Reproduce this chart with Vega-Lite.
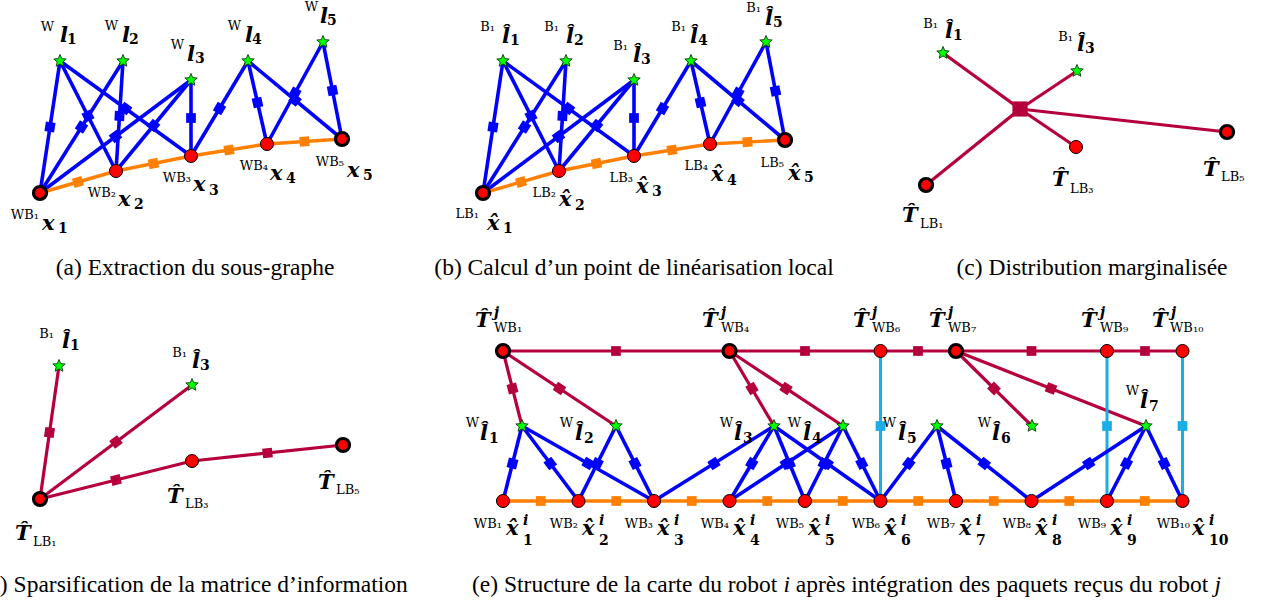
{
  "$schema": "https://vega.github.io/schema/vega-lite/v6.json",
  "width": 1263,
  "height": 606,
  "autosize": {"type": "none"},
  "padding": 0,
  "background": "white",
  "config": {"view": {"stroke": null}},
  "datasets": {
    "edges": [
      {"c":"b","x":60,"y":61,"x2":40,"y2":193,"fx":50,"fy":127},
      {"c":"b","x":60,"y":61,"x2":116,"y2":171,"fx":88,"fy":116},
      {"c":"b","x":60,"y":61,"x2":191,"y2":156,"fx":125.5,"fy":108.5},
      {"c":"b","x":123,"y":61,"x2":40,"y2":193,"fx":81.5,"fy":127},
      {"c":"b","x":123,"y":61,"x2":116,"y2":171,"fx":119.5,"fy":116},
      {"c":"b","x":191,"y":80,"x2":40,"y2":193,"fx":115.5,"fy":136.5},
      {"c":"b","x":191,"y":80,"x2":116,"y2":171,"fx":153.5,"fy":125.5},
      {"c":"b","x":191,"y":80,"x2":191,"y2":156,"fx":191,"fy":118},
      {"c":"b","x":248,"y":61,"x2":191,"y2":156,"fx":219.5,"fy":108.5},
      {"c":"b","x":248,"y":61,"x2":267,"y2":144,"fx":257.5,"fy":102.5},
      {"c":"b","x":248,"y":61,"x2":342,"y2":139,"fx":295,"fy":100},
      {"c":"b","x":323,"y":42,"x2":267,"y2":144,"fx":295,"fy":93},
      {"c":"b","x":323,"y":42,"x2":342,"y2":139,"fx":332.5,"fy":90.5},
      {"c":"o","x":40,"y":193,"x2":116,"y2":171,"fx":78,"fy":182},
      {"c":"o","x":116,"y":171,"x2":191,"y2":156,"fx":153.5,"fy":163.5},
      {"c":"o","x":191,"y":156,"x2":267,"y2":144,"fx":229,"fy":150},
      {"c":"o","x":267,"y":144,"x2":342,"y2":139,"fx":304.5,"fy":141.5},
      {"c":"b","x":503,"y":61,"x2":483,"y2":193,"fx":493,"fy":127},
      {"c":"b","x":503,"y":61,"x2":559,"y2":171,"fx":531,"fy":116},
      {"c":"b","x":503,"y":61,"x2":634,"y2":156,"fx":568.5,"fy":108.5},
      {"c":"b","x":566,"y":61,"x2":483,"y2":193,"fx":524.5,"fy":127},
      {"c":"b","x":566,"y":61,"x2":559,"y2":171,"fx":562.5,"fy":116},
      {"c":"b","x":634,"y":80,"x2":483,"y2":193,"fx":558.5,"fy":136.5},
      {"c":"b","x":634,"y":80,"x2":559,"y2":171,"fx":596.5,"fy":125.5},
      {"c":"b","x":634,"y":80,"x2":634,"y2":156,"fx":634,"fy":118},
      {"c":"b","x":691,"y":61,"x2":634,"y2":156,"fx":662.5,"fy":108.5},
      {"c":"b","x":691,"y":61,"x2":710,"y2":144,"fx":700.5,"fy":102.5},
      {"c":"b","x":691,"y":61,"x2":785,"y2":140,"fx":738,"fy":100.5},
      {"c":"b","x":766,"y":42,"x2":710,"y2":144,"fx":738,"fy":93},
      {"c":"b","x":766,"y":42,"x2":785,"y2":140,"fx":775.5,"fy":91},
      {"c":"o","x":483,"y":193,"x2":559,"y2":171,"fx":521,"fy":182},
      {"c":"o","x":559,"y":171,"x2":634,"y2":156,"fx":596.5,"fy":163.5},
      {"c":"o","x":634,"y":156,"x2":710,"y2":144,"fx":672,"fy":150},
      {"c":"o","x":710,"y":144,"x2":785,"y2":140,"fx":747.5,"fy":142},
      {"c":"r","x":1020,"y":109,"x2":943,"y2":53},
      {"c":"r","x":1020,"y":109,"x2":1077,"y2":71},
      {"c":"r","x":1020,"y":109,"x2":926,"y2":185},
      {"c":"r","x":1020,"y":109,"x2":1076,"y2":147},
      {"c":"r","x":1020,"y":109,"x2":1227,"y2":132},
      {"c":"r","x":40,"y":499,"x2":59,"y2":366,"fx":49.5,"fy":432.5},
      {"c":"r","x":40,"y":499,"x2":192,"y2":385,"fx":116,"fy":442},
      {"c":"r","x":40,"y":499,"x2":192,"y2":461,"fx":116,"fy":480},
      {"c":"r","x":192,"y":461,"x2":343,"y2":445,"fx":267.5,"fy":453},
      {"c":"r","x":503,"y":351,"x2":729.5,"y2":351,"fx":616,"fy":351},
      {"c":"r","x":729.5,"y":351,"x2":880.5,"y2":351,"fx":805,"fy":351},
      {"c":"r","x":880.5,"y":351,"x2":956,"y2":351,"fx":918,"fy":351},
      {"c":"r","x":956,"y":351,"x2":1107,"y2":351,"fx":1031.5,"fy":351},
      {"c":"r","x":1107,"y":351,"x2":1182.5,"y2":351,"fx":1145,"fy":351},
      {"c":"r","x":503,"y":351,"x2":522,"y2":426,"fx":512.5,"fy":388.5},
      {"c":"r","x":503,"y":351,"x2":616,"y2":426,"fx":559.5,"fy":388.5},
      {"c":"r","x":729.5,"y":351,"x2":774,"y2":426,"fx":752,"fy":388.5},
      {"c":"r","x":729.5,"y":351,"x2":843,"y2":426,"fx":786,"fy":388.5},
      {"c":"r","x":956,"y":351,"x2":1032,"y2":426,"fx":994,"fy":388.5},
      {"c":"r","x":956,"y":351,"x2":1146,"y2":426,"fx":1051,"fy":388.5},
      {"c":"c","x":880.5,"y":351,"x2":880.5,"y2":501,"fx":880.5,"fy":426},
      {"c":"c","x":1107,"y":351,"x2":1107,"y2":501,"fx":1107,"fy":426},
      {"c":"c","x":1182.5,"y":351,"x2":1182.5,"y2":501,"fx":1182.5,"fy":426},
      {"c":"o","x":503,"y":501,"x2":578.5,"y2":501,"fx":540.75,"fy":501},
      {"c":"o","x":578.5,"y":501,"x2":654,"y2":501,"fx":616.25,"fy":501},
      {"c":"o","x":654,"y":501,"x2":729.5,"y2":501,"fx":691.75,"fy":501},
      {"c":"o","x":729.5,"y":501,"x2":805,"y2":501,"fx":767.25,"fy":501},
      {"c":"o","x":805,"y":501,"x2":880.5,"y2":501,"fx":842.75,"fy":501},
      {"c":"o","x":880.5,"y":501,"x2":956,"y2":501,"fx":918.25,"fy":501},
      {"c":"o","x":956,"y":501,"x2":1031.5,"y2":501,"fx":993.75,"fy":501},
      {"c":"o","x":1031.5,"y":501,"x2":1107,"y2":501,"fx":1069.25,"fy":501},
      {"c":"o","x":1107,"y":501,"x2":1182.5,"y2":501,"fx":1144.75,"fy":501},
      {"c":"b","x":522,"y":426,"x2":503,"y2":501,"fx":512.5,"fy":463.5},
      {"c":"b","x":522,"y":426,"x2":578.5,"y2":501,"fx":550.25,"fy":463.5},
      {"c":"b","x":522,"y":426,"x2":654,"y2":501,"fx":588,"fy":463.5},
      {"c":"b","x":616,"y":426,"x2":578.5,"y2":501,"fx":597.25,"fy":463.5},
      {"c":"b","x":616,"y":426,"x2":654,"y2":501,"fx":635,"fy":463.5},
      {"c":"b","x":774,"y":426,"x2":654,"y2":501,"fx":714,"fy":463.5},
      {"c":"b","x":774,"y":426,"x2":729.5,"y2":501,"fx":751.75,"fy":463.5},
      {"c":"b","x":774,"y":426,"x2":805,"y2":501,"fx":789.5,"fy":463.5},
      {"c":"b","x":774,"y":426,"x2":880.5,"y2":501,"fx":827.25,"fy":463.5},
      {"c":"b","x":843,"y":426,"x2":729.5,"y2":501,"fx":786.25,"fy":463.5},
      {"c":"b","x":843,"y":426,"x2":805,"y2":501,"fx":824,"fy":463.5},
      {"c":"b","x":843,"y":426,"x2":880.5,"y2":501,"fx":861.75,"fy":463.5},
      {"c":"b","x":937,"y":426,"x2":880.5,"y2":501,"fx":908.75,"fy":463.5},
      {"c":"b","x":937,"y":426,"x2":956,"y2":501,"fx":946.5,"fy":463.5},
      {"c":"b","x":937,"y":426,"x2":1031.5,"y2":501,"fx":984.25,"fy":463.5},
      {"c":"b","x":1146,"y":426,"x2":1031.5,"y2":501,"fx":1088.75,"fy":463.5},
      {"c":"b","x":1146,"y":426,"x2":1107,"y2":501,"fx":1126.5,"fy":463.5},
      {"c":"b","x":1146,"y":426,"x2":1182.5,"y2":501,"fx":1164.25,"fy":463.5}
    ],
    "nodes": [
      {"k":"x","b":1,"x":40,"y":193},{"k":"x","b":0,"x":116,"y":171},{"k":"x","b":0,"x":191,"y":156},{"k":"x","b":0,"x":267,"y":144},{"k":"x","b":1,"x":342,"y":139},
      {"k":"x","b":1,"x":483,"y":193},{"k":"x","b":0,"x":559,"y":171},{"k":"x","b":0,"x":634,"y":156},{"k":"x","b":0,"x":710,"y":144},{"k":"x","b":1,"x":785,"y":140},
      {"k":"x","b":1,"x":926,"y":185},{"k":"x","b":0,"x":1076,"y":147},{"k":"x","b":1,"x":1227,"y":132},
      {"k":"x","b":1,"x":40,"y":499},{"k":"x","b":0,"x":192,"y":461},{"k":"x","b":1,"x":343,"y":445},
      {"k":"x","b":1,"x":503,"y":351},{"k":"x","b":1,"x":729.5,"y":351},{"k":"x","b":0,"x":880.5,"y":351},{"k":"x","b":1,"x":956,"y":351},{"k":"x","b":0,"x":1107,"y":351},{"k":"x","b":0,"x":1182.5,"y":351},
      {"k":"x","b":0,"x":503,"y":501},{"k":"x","b":0,"x":578.5,"y":501},{"k":"x","b":0,"x":654,"y":501},{"k":"x","b":0,"x":729.5,"y":501},{"k":"x","b":0,"x":805,"y":501},{"k":"x","b":0,"x":880.5,"y":501},{"k":"x","b":0,"x":956,"y":501},{"k":"x","b":0,"x":1031.5,"y":501},{"k":"x","b":0,"x":1107,"y":501},{"k":"x","b":0,"x":1182.5,"y":501},
      {"k":"l","b":0,"x":60,"y":61},{"k":"l","b":0,"x":123,"y":61},{"k":"l","b":0,"x":191,"y":80},{"k":"l","b":0,"x":248,"y":61},{"k":"l","b":0,"x":323,"y":42},
      {"k":"l","b":0,"x":503,"y":61},{"k":"l","b":0,"x":566,"y":61},{"k":"l","b":0,"x":634,"y":80},{"k":"l","b":0,"x":691,"y":61},{"k":"l","b":0,"x":766,"y":42},
      {"k":"l","b":0,"x":943,"y":53},{"k":"l","b":0,"x":1077,"y":71},
      {"k":"l","b":0,"x":59,"y":366},{"k":"l","b":0,"x":192,"y":385},
      {"k":"l","b":0,"x":522,"y":426},{"k":"l","b":0,"x":616,"y":426},{"k":"l","b":0,"x":774,"y":426},{"k":"l","b":0,"x":843,"y":426},{"k":"l","b":0,"x":937,"y":426},{"k":"l","b":0,"x":1032,"y":426},{"k":"l","b":0,"x":1146,"y":426}
    ],
    "labels": [
      {"k":"p","t":"W","x":54,"y":31},{"k":"m","t":"l","x":60,"y":42},{"k":"s","t":"1","x":67,"y":44},
      {"k":"p","t":"W","x":118,"y":30},{"k":"m","t":"l","x":122,"y":42},{"k":"s","t":"2","x":129,"y":44},
      {"k":"p","t":"W","x":184,"y":49},{"k":"m","t":"l","x":187,"y":61},{"k":"s","t":"3","x":195,"y":63},
      {"k":"p","t":"W","x":241,"y":30},{"k":"m","t":"l","x":245,"y":42},{"k":"s","t":"4","x":252,"y":44},
      {"k":"p","t":"W","x":318,"y":11},{"k":"m","t":"l","x":320,"y":23},{"k":"s","t":"5","x":327,"y":25},
      {"k":"p","t":"WB₁","x":39,"y":219},{"k":"m","t":"x","x":42,"y":230},{"k":"s","t":"1","x":58,"y":233},
      {"k":"p","t":"WB₂","x":116,"y":197},{"k":"m","t":"x","x":118,"y":206},{"k":"s","t":"2","x":134,"y":209},
      {"k":"p","t":"WB₃","x":191,"y":182},{"k":"m","t":"x","x":193,"y":191},{"k":"s","t":"3","x":209,"y":195},
      {"k":"p","t":"WB₄","x":268,"y":170},{"k":"m","t":"x","x":270,"y":180},{"k":"s","t":"4","x":286,"y":183},
      {"k":"p","t":"WB₅","x":344,"y":166},{"k":"m","t":"x","x":347,"y":177},{"k":"s","t":"5","x":363,"y":180},
      {"k":"p","t":"B₁","x":495,"y":31},{"k":"m","t":"l̂","x":502,"y":43},{"k":"s","t":"1","x":510,"y":45},
      {"k":"p","t":"B₁","x":559,"y":31},{"k":"m","t":"l̂","x":566,"y":43},{"k":"s","t":"2","x":574,"y":45},
      {"k":"p","t":"B₁","x":628,"y":50},{"k":"m","t":"l̂","x":633,"y":62},{"k":"s","t":"3","x":641,"y":64},
      {"k":"p","t":"B₁","x":686,"y":31},{"k":"m","t":"l̂","x":690,"y":43},{"k":"s","t":"4","x":698,"y":45},
      {"k":"p","t":"B₁","x":761,"y":12},{"k":"m","t":"l̂","x":765,"y":25},{"k":"s","t":"5","x":773,"y":27},
      {"k":"p","t":"LB₁","x":479,"y":218},{"k":"m","t":"x̂","x":487,"y":230},{"k":"s","t":"1","x":503,"y":233},
      {"k":"p","t":"LB₂","x":556,"y":197},{"k":"m","t":"x̂","x":559,"y":206},{"k":"s","t":"2","x":575,"y":210},
      {"k":"p","t":"LB₃","x":633,"y":182},{"k":"m","t":"x̂","x":636,"y":193},{"k":"s","t":"3","x":652,"y":196},
      {"k":"p","t":"LB₄","x":708,"y":170},{"k":"m","t":"x̂","x":711,"y":181},{"k":"s","t":"4","x":727,"y":185},
      {"k":"p","t":"LB₅","x":784,"y":167},{"k":"m","t":"x̂","x":788,"y":180},{"k":"s","t":"5","x":804,"y":182},
      {"k":"p","t":"B₁","x":938,"y":28},{"k":"m","t":"l̂","x":945,"y":38},{"k":"s","t":"1","x":953,"y":40},
      {"k":"p","t":"B₁","x":1073,"y":41},{"k":"m","t":"l̂","x":1077,"y":51},{"k":"s","t":"3","x":1085,"y":53},
      {"k":"m","t":"T̂","x":902,"y":222},{"k":"q","t":"LB₁","x":920,"y":228},
      {"k":"m","t":"T̂","x":1052,"y":186},{"k":"q","t":"LB₃","x":1070,"y":193},
      {"k":"m","t":"T̂","x":1203,"y":176},{"k":"q","t":"LB₅","x":1221,"y":181},
      {"k":"p","t":"B₁","x":54,"y":338},{"k":"m","t":"l̂","x":62,"y":348},{"k":"s","t":"1","x":70,"y":350},
      {"k":"p","t":"B₁","x":187,"y":357},{"k":"m","t":"l̂","x":192,"y":368},{"k":"s","t":"3","x":200,"y":370},
      {"k":"m","t":"T̂","x":15,"y":540},{"k":"q","t":"LB₁","x":33,"y":546},
      {"k":"m","t":"T̂","x":167,"y":503},{"k":"q","t":"LB₃","x":185,"y":508},
      {"k":"m","t":"T̂","x":318,"y":489},{"k":"q","t":"LB₅","x":336,"y":494},
      {"k":"m","t":"T̂","x":475,"y":327},{"k":"u","t":"j","x":494,"y":317},{"k":"q","t":"WB₁","x":494,"y":332},
      {"k":"m","t":"T̂","x":702,"y":327},{"k":"u","t":"j","x":721,"y":317},{"k":"q","t":"WB₄","x":721,"y":332},
      {"k":"m","t":"T̂","x":853,"y":327},{"k":"u","t":"j","x":872,"y":317},{"k":"q","t":"WB₆","x":872,"y":332},
      {"k":"m","t":"T̂","x":929,"y":327},{"k":"u","t":"j","x":948,"y":317},{"k":"q","t":"WB₇","x":948,"y":332},
      {"k":"m","t":"T̂","x":1081,"y":327},{"k":"u","t":"j","x":1100,"y":317},{"k":"q","t":"WB₉","x":1100,"y":332},
      {"k":"m","t":"T̂","x":1152,"y":327},{"k":"u","t":"j","x":1171,"y":317},{"k":"q","t":"WB₁₀","x":1170,"y":332},
      {"k":"p","t":"WB₁","x":502,"y":528},{"k":"m","t":"x̂","x":506,"y":535},{"k":"u","t":"i","x":523,"y":525},{"k":"s","t":"1","x":523,"y":545},
      {"k":"p","t":"WB₂","x":578,"y":528},{"k":"m","t":"x̂","x":582,"y":535},{"k":"u","t":"i","x":599,"y":525},{"k":"s","t":"2","x":599,"y":545},
      {"k":"p","t":"WB₃","x":653,"y":528},{"k":"m","t":"x̂","x":657,"y":535},{"k":"u","t":"i","x":674,"y":525},{"k":"s","t":"3","x":674,"y":545},
      {"k":"p","t":"WB₄","x":729,"y":528},{"k":"m","t":"x̂","x":733,"y":535},{"k":"u","t":"i","x":750,"y":525},{"k":"s","t":"4","x":750,"y":545},
      {"k":"p","t":"WB₅","x":804,"y":528},{"k":"m","t":"x̂","x":808,"y":535},{"k":"u","t":"i","x":825,"y":525},{"k":"s","t":"5","x":825,"y":545},
      {"k":"p","t":"WB₆","x":880,"y":528},{"k":"m","t":"x̂","x":884,"y":535},{"k":"u","t":"i","x":901,"y":525},{"k":"s","t":"6","x":901,"y":545},
      {"k":"p","t":"WB₇","x":955,"y":528},{"k":"m","t":"x̂","x":959,"y":535},{"k":"u","t":"i","x":976,"y":525},{"k":"s","t":"7","x":976,"y":545},
      {"k":"p","t":"WB₈","x":1031,"y":528},{"k":"m","t":"x̂","x":1035,"y":535},{"k":"u","t":"i","x":1052,"y":525},{"k":"s","t":"8","x":1052,"y":545},
      {"k":"p","t":"WB₉","x":1106,"y":528},{"k":"m","t":"x̂","x":1110,"y":535},{"k":"u","t":"i","x":1127,"y":525},{"k":"s","t":"9","x":1127,"y":545},
      {"k":"p","t":"WB₁₀","x":1190,"y":528},{"k":"m","t":"x̂","x":1192,"y":535},{"k":"u","t":"i","x":1209,"y":525},{"k":"s","t":"10","x":1209,"y":545},
      {"k":"p","t":"W","x":479,"y":427},{"k":"m","t":"l̂","x":480,"y":440},{"k":"s","t":"1","x":489,"y":443},
      {"k":"p","t":"W","x":573,"y":427},{"k":"m","t":"l̂","x":575,"y":440},{"k":"s","t":"2","x":584,"y":443},
      {"k":"p","t":"W","x":733,"y":427},{"k":"m","t":"l̂","x":734,"y":440},{"k":"s","t":"3","x":743,"y":443},
      {"k":"p","t":"W","x":801,"y":427},{"k":"m","t":"l̂","x":803,"y":440},{"k":"s","t":"4","x":812,"y":443},
      {"k":"p","t":"W","x":896,"y":427},{"k":"m","t":"l̂","x":898,"y":440},{"k":"s","t":"5","x":907,"y":443},
      {"k":"p","t":"W","x":991,"y":427},{"k":"m","t":"l̂","x":992,"y":440},{"k":"s","t":"6","x":1001,"y":443},
      {"k":"p","t":"W","x":1139,"y":395},{"k":"m","t":"l̂","x":1140,"y":408},{"k":"s","t":"7","x":1149,"y":411}
    ],
    "captions": [
      {"st":"c","t":"(a) Extraction du sous-graphe","x":195,"y":275},
      {"st":"c","t":"(b) Calcul d’un point de linéarisation local","x":634,"y":275},
      {"st":"c","t":"(c) Distribution marginalisée","x":1092,"y":275},
      {"st":"c","t":"(d) Sparsification de la matrice d’information","x":194,"y":592},
      {"st":"l","t":"(e) Structure de la carte du robot","x":472,"y":592},
      {"st":"i","t":"i","x":783.5,"y":592},
      {"st":"l","t":"après intégration des paquets reçus du robot","x":795.8,"y":592},
      {"st":"i","t":"j","x":1214.5,"y":592}
    ]
  },
  "layer": [
    {
      "data": {"name": "edges"},
      "mark": {"type": "rule", "strokeCap": "butt"},
      "encoding": {
        "x": {"field": "x", "type": "quantitative", "scale": {"domain": [0, 1263], "nice": false, "zero": false}, "axis": null},
        "y": {"field": "y", "type": "quantitative", "scale": {"domain": [0, 606], "reverse": true, "nice": false, "zero": false}, "axis": null},
        "x2": {"field": "x2"},
        "y2": {"field": "y2"},
        "color": {"field": "c", "type": "nominal", "scale": {"domain": ["b", "o", "r", "c"], "range": ["#0000ff", "#ff8000", "#b5003c", "#1aaee8"]}, "legend": null},
        "strokeWidth": {"field": "c", "type": "nominal", "scale": {"domain": ["b", "o", "r", "c"], "range": [3.6, 3, 3, 3]}, "legend": null}
      }
    },
    {
      "data": {"name": "edges"},
      "transform": [
        {"filter": "isValid(datum.fx)"},
        {"calculate": "atan2(datum.y2 - datum.y, datum.x2 - datum.x) * 180 / PI", "as": "ang"}
      ],
      "mark": {"type": "point", "shape": "square", "filled": true, "opacity": 1, "size": 95},
      "encoding": {
        "x": {"field": "fx", "type": "quantitative", "scale": {"domain": [0, 1263], "nice": false, "zero": false}, "axis": null},
        "y": {"field": "fy", "type": "quantitative", "scale": {"domain": [0, 606], "reverse": true, "nice": false, "zero": false}, "axis": null},
        "color": {"field": "c", "type": "nominal", "scale": {"domain": ["b", "o", "r", "c"], "range": ["#0000ff", "#ff8000", "#b5003c", "#1aaee8"]}, "legend": null},
        "angle": {"field": "ang", "type": "quantitative", "scale": null}
      }
    },
    {
      "data": {"values": [{"x": 1020, "y": 109}]},
      "mark": {"type": "point", "shape": "square", "filled": true, "opacity": 1, "size": 230, "color": "#b5003c"},
      "encoding": {
        "x": {"field": "x", "type": "quantitative", "scale": {"domain": [0, 1263], "nice": false, "zero": false}, "axis": null},
        "y": {"field": "y", "type": "quantitative", "scale": {"domain": [0, 606], "reverse": true, "nice": false, "zero": false}, "axis": null}
      }
    },
    {
      "data": {"name": "nodes"},
      "transform": [{"filter": "datum.k == 'x'"}],
      "mark": {"type": "point", "shape": "circle", "filled": true, "fill": "#ff0000", "stroke": "#000000", "opacity": 1, "fillOpacity": 1, "strokeOpacity": 1, "size": 170},
      "encoding": {
        "x": {"field": "x", "type": "quantitative", "scale": {"domain": [0, 1263], "nice": false, "zero": false}, "axis": null},
        "y": {"field": "y", "type": "quantitative", "scale": {"domain": [0, 606], "reverse": true, "nice": false, "zero": false}, "axis": null},
        "strokeWidth": {"condition": {"test": "datum.b == 1", "value": 3.2}, "value": 1}
      }
    },
    {
      "data": {"name": "nodes"},
      "transform": [{"filter": "datum.k == 'l'"}],
      "mark": {"type": "point", "shape": "M0,-1L0.265,-0.364L0.951,-0.309L0.428,0.139L0.588,0.809L0,0.45L-0.588,0.809L-0.428,0.139L-0.951,-0.309L-0.265,-0.364Z", "filled": true, "fill": "#00ff00", "stroke": "#0a3a0a", "strokeWidth": 0.9, "opacity": 1, "fillOpacity": 1, "strokeOpacity": 1, "size": 170},
      "encoding": {
        "x": {"field": "x", "type": "quantitative", "scale": {"domain": [0, 1263], "nice": false, "zero": false}, "axis": null},
        "y": {"field": "y", "type": "quantitative", "scale": {"domain": [0, 606], "reverse": true, "nice": false, "zero": false}, "axis": null}
      }
    },
    {
      "data": {"name": "labels"},
      "transform": [{"filter": "datum.k == 'p'"}],
      "mark": {"type": "text", "align": "right", "baseline": "alphabetic", "font": "'DejaVu Serif', serif", "fontSize": 13, "color": "#000000"},
      "encoding": {
        "x": {"field": "x", "type": "quantitative", "scale": {"domain": [0, 1263], "nice": false, "zero": false}, "axis": null},
        "y": {"field": "y", "type": "quantitative", "scale": {"domain": [0, 606], "reverse": true, "nice": false, "zero": false}, "axis": null},
        "text": {"field": "t"}
      }
    },
    {
      "data": {"name": "labels"},
      "transform": [{"filter": "datum.k == 'q'"}],
      "mark": {"type": "text", "align": "left", "baseline": "alphabetic", "font": "'DejaVu Serif', serif", "fontSize": 13, "color": "#000000"},
      "encoding": {
        "x": {"field": "x", "type": "quantitative", "scale": {"domain": [0, 1263], "nice": false, "zero": false}, "axis": null},
        "y": {"field": "y", "type": "quantitative", "scale": {"domain": [0, 606], "reverse": true, "nice": false, "zero": false}, "axis": null},
        "text": {"field": "t"}
      }
    },
    {
      "data": {"name": "labels"},
      "transform": [{"filter": "datum.k == 'm'"}],
      "mark": {"type": "text", "align": "left", "baseline": "alphabetic", "font": "'DejaVu Serif', serif", "fontSize": 21, "fontStyle": "italic", "fontWeight": "bold", "color": "#000000"},
      "encoding": {
        "x": {"field": "x", "type": "quantitative", "scale": {"domain": [0, 1263], "nice": false, "zero": false}, "axis": null},
        "y": {"field": "y", "type": "quantitative", "scale": {"domain": [0, 606], "reverse": true, "nice": false, "zero": false}, "axis": null},
        "text": {"field": "t"}
      }
    },
    {
      "data": {"name": "labels"},
      "transform": [{"filter": "datum.k == 's'"}],
      "mark": {"type": "text", "align": "left", "baseline": "alphabetic", "font": "'DejaVu Serif', serif", "fontSize": 14, "fontWeight": "bold", "color": "#000000"},
      "encoding": {
        "x": {"field": "x", "type": "quantitative", "scale": {"domain": [0, 1263], "nice": false, "zero": false}, "axis": null},
        "y": {"field": "y", "type": "quantitative", "scale": {"domain": [0, 606], "reverse": true, "nice": false, "zero": false}, "axis": null},
        "text": {"field": "t"}
      }
    },
    {
      "data": {"name": "labels"},
      "transform": [{"filter": "datum.k == 'u'"}],
      "mark": {"type": "text", "align": "left", "baseline": "alphabetic", "font": "'DejaVu Serif', serif", "fontSize": 14, "fontStyle": "italic", "fontWeight": "bold", "color": "#000000"},
      "encoding": {
        "x": {"field": "x", "type": "quantitative", "scale": {"domain": [0, 1263], "nice": false, "zero": false}, "axis": null},
        "y": {"field": "y", "type": "quantitative", "scale": {"domain": [0, 606], "reverse": true, "nice": false, "zero": false}, "axis": null},
        "text": {"field": "t"}
      }
    },
    {
      "data": {"name": "captions"},
      "transform": [{"filter": "datum.st == 'c'"}],
      "mark": {"type": "text", "align": "center", "baseline": "alphabetic", "font": "'Liberation Serif', 'Times New Roman', serif", "fontSize": 23.5, "color": "#000000"},
      "encoding": {
        "x": {"field": "x", "type": "quantitative", "scale": {"domain": [0, 1263], "nice": false, "zero": false}, "axis": null},
        "y": {"field": "y", "type": "quantitative", "scale": {"domain": [0, 606], "reverse": true, "nice": false, "zero": false}, "axis": null},
        "text": {"field": "t"}
      }
    },
    {
      "data": {"name": "captions"},
      "transform": [{"filter": "datum.st == 'l'"}],
      "mark": {"type": "text", "align": "left", "baseline": "alphabetic", "font": "'Liberation Serif', 'Times New Roman', serif", "fontSize": 23.5, "color": "#000000"},
      "encoding": {
        "x": {"field": "x", "type": "quantitative", "scale": {"domain": [0, 1263], "nice": false, "zero": false}, "axis": null},
        "y": {"field": "y", "type": "quantitative", "scale": {"domain": [0, 606], "reverse": true, "nice": false, "zero": false}, "axis": null},
        "text": {"field": "t"}
      }
    },
    {
      "data": {"name": "captions"},
      "transform": [{"filter": "datum.st == 'i'"}],
      "mark": {"type": "text", "align": "left", "baseline": "alphabetic", "font": "'Liberation Serif', 'Times New Roman', serif", "fontSize": 23.5, "fontStyle": "italic", "color": "#000000"},
      "encoding": {
        "x": {"field": "x", "type": "quantitative", "scale": {"domain": [0, 1263], "nice": false, "zero": false}, "axis": null},
        "y": {"field": "y", "type": "quantitative", "scale": {"domain": [0, 606], "reverse": true, "nice": false, "zero": false}, "axis": null},
        "text": {"field": "t"}
      }
    }
  ]
}
